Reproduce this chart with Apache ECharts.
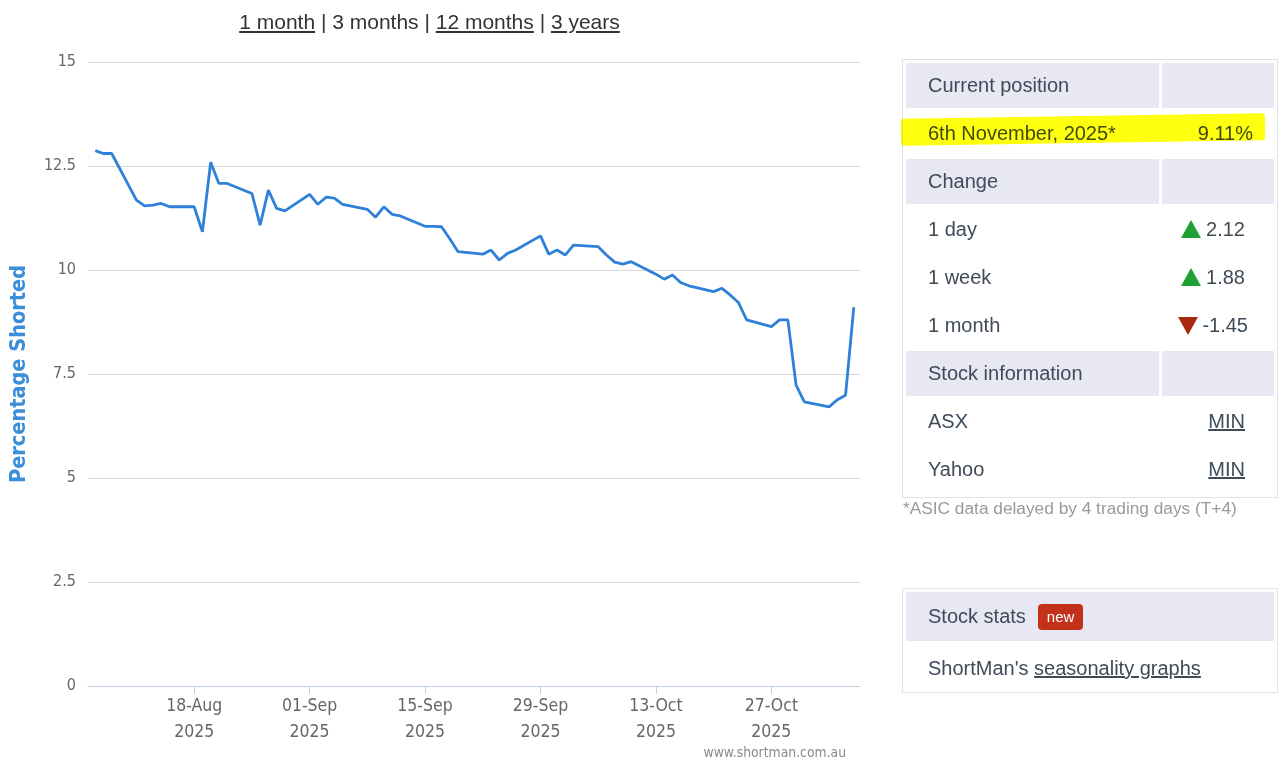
<!DOCTYPE html>
<html>
<head>
<meta charset="utf-8">
<script src="https://cdn.jsdelivr.net/npm/echarts@6/dist/echarts.min.js"></script>
<style>
  html, body { margin: 0; padding: 0; background: #fff; width: 1280px; height: 762px; overflow: hidden; }
  #chart { position: absolute; left: 0; top: 0; width: 1280px; height: 762px; }
  .ov { position: absolute; z-index: 2; font-family: 'Liberation Sans', Arial, sans-serif; color: #3f4b57; }
  #hdr { left: 0; top: 9px; width: 859px; text-align: center; font-size: 21px; line-height: 26px; color: #333; }
  #hdr a { color: #333; text-decoration: underline; }
  .box { border: 1px solid #e2e2e2; background: transparent; }
  table { border-collapse: separate; border-spacing: 3px; width: 100%; position: relative; }
  td { height: 45px; padding: 0; font-size: 20px; line-height: 45px; white-space: nowrap; }
  #box2 td { height: 49px; line-height: 49px; }
  td.l { padding-left: 22px; }
  td.r { text-align: right; padding-right: 21px; width: 83px; }
  tr.h td { background: #e8e8f4; }
  .u { text-decoration: underline; color: #3f4b57; }
  .tri-up { display: inline-block; width: 0; height: 0; border-left: 10px solid transparent; border-right: 10px solid transparent; border-bottom: 18px solid #1ea035; vertical-align: -2px; margin-right: 5px; }
  .tri-dn { display: inline-block; width: 0; height: 0; border-left: 10px solid transparent; border-right: 10px solid transparent; border-top: 18px solid #a8290f; vertical-align: -3px; margin-right: 4px; }
  #hl { position: absolute; left: -2px; top: 56px; width: 364px; height: 27px; background: #ffff10; mix-blend-mode: multiply; transform: rotate(-0.9deg); border-radius: 3px; z-index: 3; }
  #note { left: 903px; top: 498px; font-size: 17.3px; color: #9a9a9a; }
  .badge { display: inline-block; background: #c4311b; color: #fff; font-size: 15px; line-height: 26px; height: 26px; padding: 0 9px; border-radius: 4px; margin-left: 12px; vertical-align: 1px; }
</style>
</head>
<body>
<div id="chart"></div>

<div id="hdr" class="ov"><a>1 month</a> | 3 months | <a>12 months</a> | <a>3 years</a></div>

<div id="box1" class="ov box" style="left:902px; top:59px; width:374px; height:437px;">
  <div id="hl"></div>
  <table>
    <tr class="h"><td class="l">Current position</td><td class="r"></td></tr>
    <tr><td class="l">6th November, 2025*</td><td class="r">9.11%</td></tr>
    <tr class="h"><td class="l">Change</td><td class="r"></td></tr>
    <tr><td class="l">1 day</td><td class="r" style="padding-right:29px"><span class="tri-up"></span>2.12</td></tr>
    <tr><td class="l">1 week</td><td class="r" style="padding-right:29px"><span class="tri-up"></span>1.88</td></tr>
    <tr><td class="l">1 month</td><td class="r" style="padding-right:26px"><span class="tri-dn"></span>-1.45</td></tr>
    <tr class="h"><td class="l">Stock information</td><td class="r"></td></tr>
    <tr><td class="l">ASX</td><td class="r" style="padding-right:29px"><span class="u">MIN</span></td></tr>
    <tr><td class="l">Yahoo</td><td class="r" style="padding-right:29px"><span class="u">MIN</span></td></tr>
  </table>
</div>
<div id="note" class="ov">*ASIC data delayed by 4 trading days (T+4)</div>

<div id="box2" class="ov box" style="left:902px; top:588px; width:374px; height:103px;">
  <table>
    <tr class="h"><td class="l" colspan="2">Stock stats<span class="badge">new</span></td></tr>
    <tr><td class="l" colspan="2">ShortMan's <span class="u">seasonality graphs</span></td></tr>
  </table>
</div>

<script>
// ---- data ----
const dates = [
  '2025-08-06','2025-08-07','2025-08-08','2025-08-11','2025-08-12','2025-08-13','2025-08-14','2025-08-15',
  '2025-08-18','2025-08-19','2025-08-20','2025-08-21','2025-08-22','2025-08-25','2025-08-26','2025-08-27',
  '2025-08-28','2025-08-29','2025-09-01','2025-09-02','2025-09-03','2025-09-04','2025-09-05','2025-09-08',
  '2025-09-09','2025-09-10','2025-09-11','2025-09-12','2025-09-15','2025-09-16','2025-09-17','2025-09-18',
  '2025-09-19','2025-09-22','2025-09-23','2025-09-24','2025-09-25','2025-09-26','2025-09-29','2025-09-30',
  '2025-10-01','2025-10-02','2025-10-03','2025-10-06','2025-10-07','2025-10-08','2025-10-09','2025-10-10',
  '2025-10-13','2025-10-14','2025-10-15','2025-10-16','2025-10-17','2025-10-20','2025-10-21','2025-10-22',
  '2025-10-23','2025-10-24','2025-10-27','2025-10-28','2025-10-29','2025-10-30','2025-10-31','2025-11-03',
  '2025-11-04','2025-11-05','2025-11-06'
];
const percentShorted = [
  12.87, 12.80, 12.80, 11.68, 11.54, 11.56, 11.60, 11.52,
  11.52, 10.92, 12.59, 12.08, 12.08, 11.84, 11.08, 11.92,
  11.48, 11.42, 11.82, 11.58, 11.75, 11.73, 11.58, 11.46,
  11.27, 11.52, 11.34, 11.30, 11.05, 11.05, 11.04, 10.75,
  10.44, 10.38, 10.48, 10.24, 10.40, 10.48, 10.82, 10.38,
  10.48, 10.36, 10.60, 10.56, 10.36, 10.19, 10.14, 10.20,
  9.90, 9.78, 9.88, 9.70, 9.62, 9.48, 9.56, 9.40,
  9.22, 8.80, 8.64, 8.80, 8.80, 7.23, 6.83, 6.71,
  6.88, 6.99, 9.11
];
const xTickDates = ['2025-08-18','2025-09-01','2025-09-15','2025-09-29','2025-10-13','2025-10-27'];
const monthNames = ['Jan','Feb','Mar','Apr','May','Jun','Jul','Aug','Sep','Oct','Nov','Dec'];
const yAxisTitle = 'Percentage Shorted';
const watermark = 'www.shortman.com.au';

// ---- chart ----
function ts(s) { const p = s.split('-').map(Number); return new Date(p[0], p[1] - 1, p[2]).getTime(); }
const DAY = 86400000;
const seriesData = dates.map((d, i) => [ts(d), percentShorted[i]]);
const tickVals = xTickDates.map(ts);
const FONT = "'DejaVu Sans Condensed', 'DejaVu Sans', sans-serif";

const chart = echarts.init(document.getElementById('chart'), null, { renderer: 'canvas' });
chart.setOption({
  animation: false,
  grid: { left: 88, right: 420, top: 62, bottom: 76, containLabel: false },
  xAxis: {
    type: 'value',
    min: ts(dates[0]) - 0.875 * DAY,
    max: ts(dates[dates.length - 1]) + 0.75 * DAY,
    scale: true,
    axisLine: { show: true, lineStyle: { color: '#c0d0e0', width: 1 } },
    axisTick: { show: true, customValues: tickVals, length: 8, lineStyle: { color: '#c0d0e0' } },
    splitLine: { show: false },
    axisLabel: {
      customValues: tickVals,
      margin: 7,
      fontFamily: FONT,
      fontSize: 17.5,
      lineHeight: 26,
      color: '#666',
      formatter: function (v) {
        const d = new Date(v);
        const dd = String(d.getDate()).padStart(2, '0');
        return dd + '-' + monthNames[d.getMonth()] + '\n' + d.getFullYear();
      }
    }
  },
  yAxis: {
    type: 'value',
    min: 0, max: 15, interval: 2.5,
    name: yAxisTitle,
    nameLocation: 'middle',
    nameRotate: 90,
    nameGap: 58,
    nameTextStyle: { color: '#3b8ed8', fontWeight: 'bold', fontSize: 21.5, fontFamily: FONT },
    axisLine: { show: false },
    axisTick: { show: false },
    axisLabel: { margin: 12, fontFamily: FONT, fontSize: 16, color: '#666' },
    splitLine: { show: true, lineStyle: { color: '#d8d8d8', width: 1 } }
  },
  series: [{
    type: 'line',
    data: seriesData,
    showSymbol: false,
    symbol: 'none',
    lineStyle: { color: '#2f80d8', width: 2.8 },
    z: 3
  }],
  graphic: [{
    type: 'text',
    right: 434,
    top: 746,
    style: { text: watermark, fill: '#8a8a8a', fontSize: 13.8, fontFamily: FONT }
  }]
});
</script>
</body>
</html>
